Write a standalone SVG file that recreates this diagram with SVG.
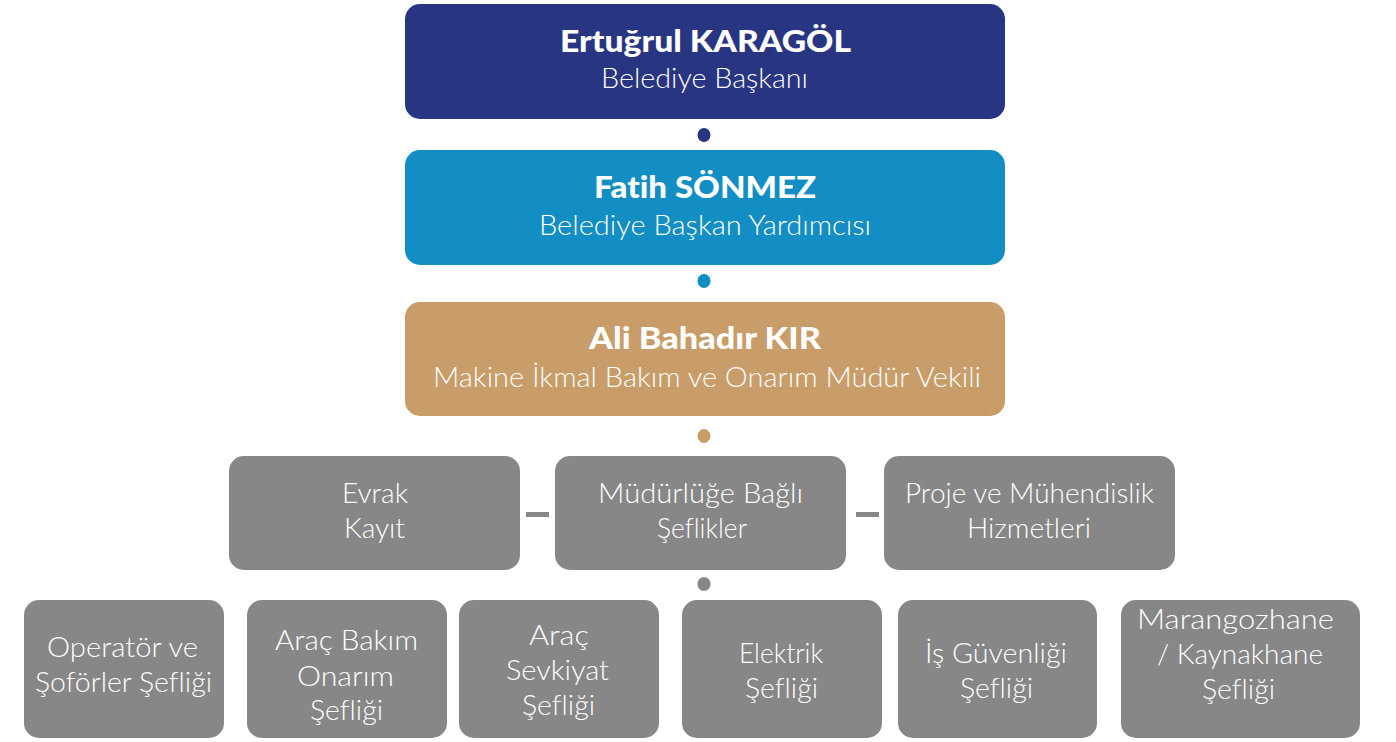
<svg xmlns="http://www.w3.org/2000/svg" width="1396" height="742" viewBox="0 0 1396 742">
<style>
text{font-variant-ligatures:none}
.t{font-family:Lato,"Open Sans","Liberation Sans",sans-serif;fill:#fff;text-anchor:middle}
.n{font-weight:900;font-size:31px}
.s{font-weight:300;font-size:27px}
.g{font-weight:300;font-size:27px}
.gb{fill:#878787}
</style>
<rect width="1396" height="742" fill="#fff"/>
<g id="connectors">
<ellipse cx="704" cy="135" rx="6.5" ry="7" fill="#283583"/>
<ellipse cx="704" cy="281" rx="6.5" ry="7" fill="#138EC4"/>
<ellipse cx="704" cy="436" rx="6.5" ry="7" fill="#C89D69"/>
<ellipse cx="704" cy="584" rx="6.5" ry="7" fill="#878787"/>
<rect x="526" y="512" width="23" height="5" fill="#878787"/>
<rect x="856" y="512" width="23" height="5" fill="#878787"/>
</g>
<g id="n1"><rect x="405" y="4" width="600" height="115" rx="15" fill="#283583"/>
<text class="t n" x="705.5" y="52" textLength="291" lengthAdjust="spacingAndGlyphs">Ertuğrul KARAGÖL</text><text class="t s" x="704.5" y="88" textLength="207" lengthAdjust="spacingAndGlyphs">Belediye Başkanı</text></g>
<g id="n2"><rect x="405" y="150" width="600" height="115" rx="15" fill="#138EC4"/>
<text class="t n" x="705" y="198" textLength="222" lengthAdjust="spacingAndGlyphs">Fatih SÖNMEZ</text><text class="t s" x="705" y="235" textLength="332" lengthAdjust="spacingAndGlyphs">Belediye Başkan Yardımcısı</text></g>
<g id="n3"><rect x="405" y="302" width="600" height="114" rx="15" fill="#C89D69"/>
<text class="t n" x="705" y="349" textLength="232" lengthAdjust="spacingAndGlyphs">Ali Bahadır KIR</text><text class="t s" x="707" y="387" textLength="548" lengthAdjust="spacingAndGlyphs">Makine İkmal Bakım ve Onarım Müdür Vekili</text></g>
<g id="n4"><rect class="gb" x="229" y="456" width="291" height="114" rx="15"/>
<text class="t g" x="375" y="503" textLength="66" lengthAdjust="spacingAndGlyphs">Evrak</text><text class="t g" x="374.5" y="538" textLength="61" lengthAdjust="spacingAndGlyphs">Kayıt</text></g>
<g id="n5"><rect class="gb" x="555" y="456" width="291" height="114" rx="15"/>
<text class="t g" x="700.5" y="503" textLength="205" lengthAdjust="spacingAndGlyphs">Müdürlüğe Bağlı</text><text class="t g" x="702" y="538" textLength="90" lengthAdjust="spacingAndGlyphs">Şeflikler</text></g>
<g id="n6"><rect class="gb" x="884" y="456" width="291" height="114" rx="15"/>
<text class="t g" x="1029.5" y="503" textLength="249" lengthAdjust="spacingAndGlyphs">Proje ve Mühendislik</text><text class="t g" x="1029" y="538" textLength="124" lengthAdjust="spacingAndGlyphs">Hizmetleri</text></g>
<g id="n7"><rect class="gb" x="24" y="600" width="200" height="138" rx="15"/>
<text class="t g" x="122.5" y="657" textLength="151" lengthAdjust="spacingAndGlyphs">Operatör ve</text><text class="t g" x="123.5" y="692" textLength="177" lengthAdjust="spacingAndGlyphs">Şoförler Şefliği</text></g>
<g id="n8"><rect class="gb" x="247" y="600" width="200" height="138" rx="15"/>
<text class="t g" x="346.5" y="650" textLength="143" lengthAdjust="spacingAndGlyphs">Araç Bakım</text><text class="t g" x="345.5" y="686" textLength="97" lengthAdjust="spacingAndGlyphs">Onarım</text><text class="t g" x="346.5" y="720" textLength="73" lengthAdjust="spacingAndGlyphs">Şefliği</text></g>
<g id="n9"><rect class="gb" x="459" y="600" width="200" height="138" rx="15"/>
<text class="t g" x="559" y="645" textLength="60" lengthAdjust="spacingAndGlyphs">Araç</text><text class="t g" x="557.5" y="680" textLength="103" lengthAdjust="spacingAndGlyphs">Sevkiyat</text><text class="t g" x="558.5" y="715" textLength="73" lengthAdjust="spacingAndGlyphs">Şefliği</text></g>
<g id="n10"><rect class="gb" x="682" y="600" width="200" height="138" rx="15"/>
<text class="t g" x="781" y="663" textLength="84" lengthAdjust="spacingAndGlyphs">Elektrik</text><text class="t g" x="781.5" y="698" textLength="73" lengthAdjust="spacingAndGlyphs">Şefliği</text></g>
<g id="n11"><rect class="gb" x="898" y="600" width="199" height="138" rx="15"/>
<text class="t g" x="996" y="663" textLength="142" lengthAdjust="spacingAndGlyphs">İş Güvenliği</text><text class="t g" x="996.5" y="698" textLength="73" lengthAdjust="spacingAndGlyphs">Şefliği</text></g>
<g id="n12"><rect class="gb" x="1121" y="600" width="239" height="138" rx="15"/>
<text class="t g" x="1235.5" y="629" textLength="197" lengthAdjust="spacingAndGlyphs">Marangozhane</text><text class="t g" x="1240" y="664" textLength="166" lengthAdjust="spacingAndGlyphs">/ Kaynakhane</text><text class="t g" x="1238.5" y="699" textLength="73" lengthAdjust="spacingAndGlyphs">Şefliği</text></g>
</svg>
